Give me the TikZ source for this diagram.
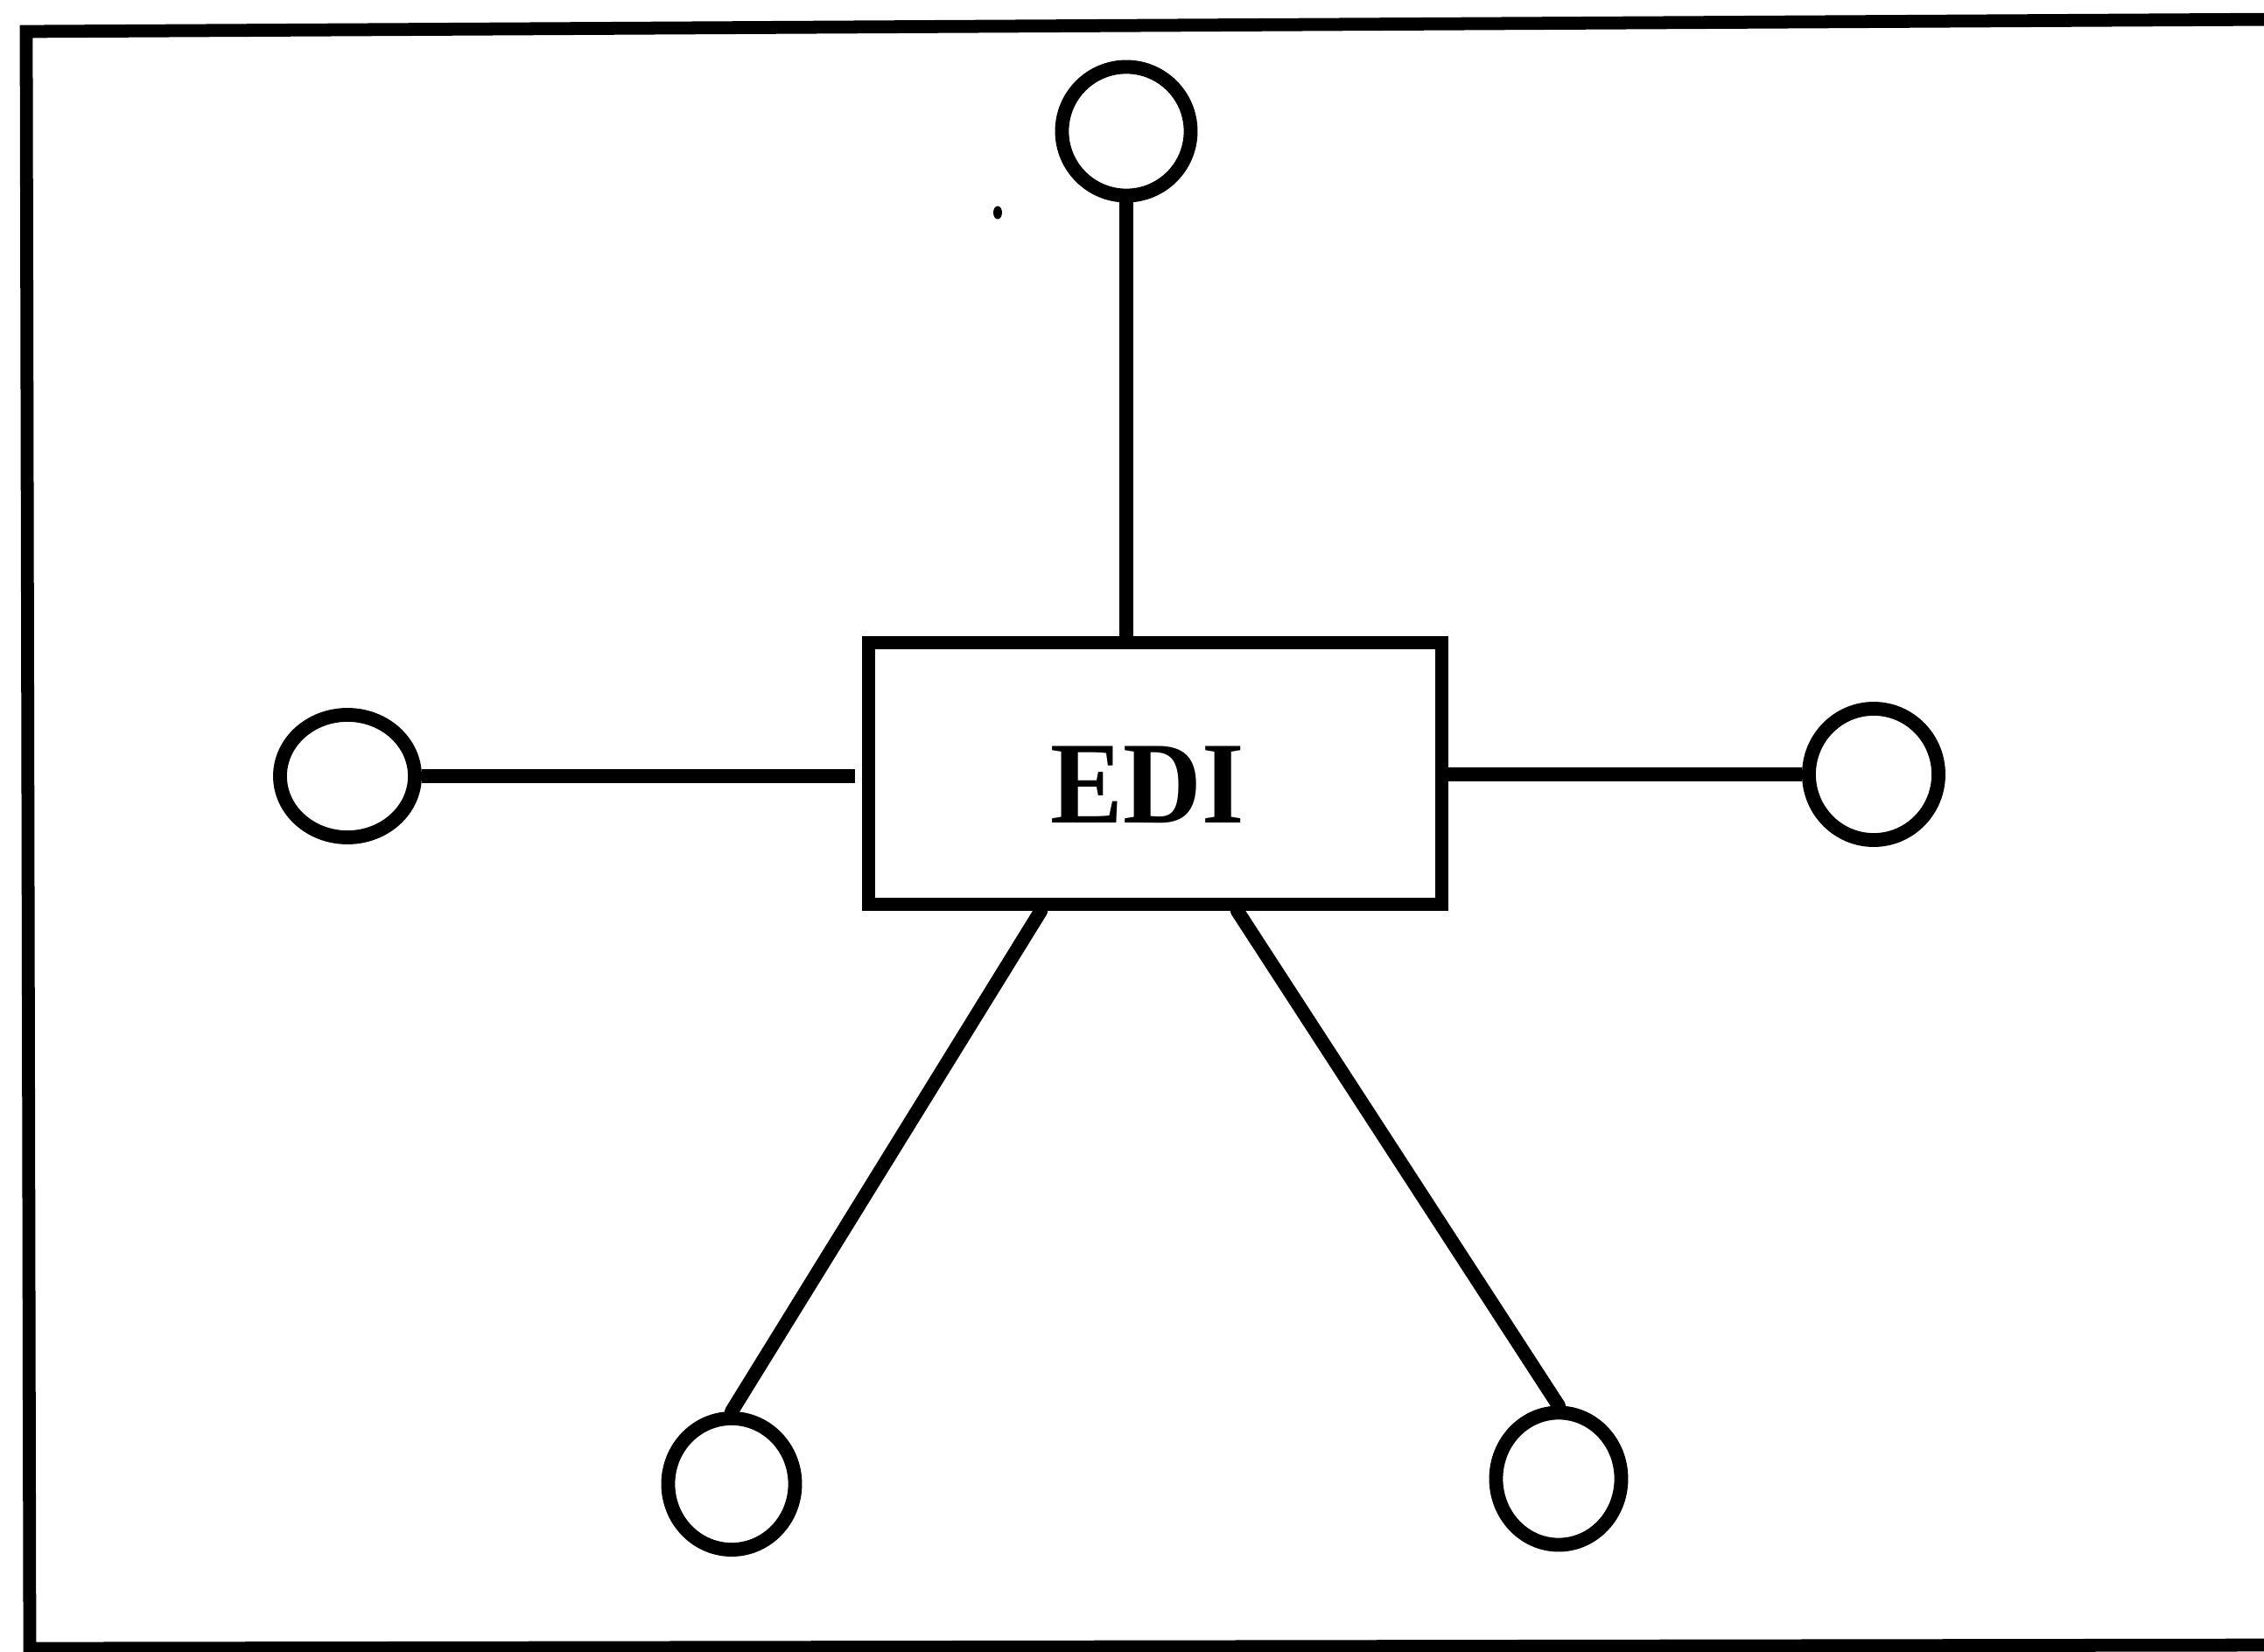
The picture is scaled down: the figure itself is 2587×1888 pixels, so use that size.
\documentclass[tikz,border=0pt]{standalone}
\usepackage{fontspec}
\setmainfont{Liberation Serif}
\usetikzlibrary{shapes.geometric,calc}
\tikzset{
  ln/.style={line width=4.5pt},
  conn/.style={ln,line cap=round},
  term/.style={ellipse,draw,ln,inner sep=0pt},
  hub/.style={rectangle,draw,line width=4.2pt,inner sep=0pt},
  lbl/.style={inner sep=0pt,font=\fontsize{38}{40}\selectfont\bfseries}
}
\begin{document}
\begin{tikzpicture}[x=0.01cm,y=-0.01cm]
\useasboundingbox (0,0) rectangle (2587,1888);
\fill[white] (0,0) rectangle (2587,1888);
\begin{scope}
\clip (0,0) rectangle (2587,1888);
\draw[line width=4.2pt,line join=miter] (2620,22) -- (30,36) -- (34,1884) -- (2620,1880);
\end{scope}
% hub
\node[hub,minimum width=6.55cm,minimum height=2.99cm] (box) at (1320,884) {};
\node[lbl] (edi) at (1311,897) {\scalebox{0.93}[1]{EDI}};
% terminals
\node[term,minimum width=1.47cm,minimum height=1.47cm] (top) at (1287,150) {};
\node[term,minimum width=1.54cm,minimum height=1.40cm] (left) at (397,887) {};
\node[term,minimum width=1.48cm,minimum height=1.50cm] (right) at (2141,885) {};
\node[term,minimum width=1.45cm,minimum height=1.50cm] (bl) at (836,1696) {};
\node[term,minimum width=1.43cm,minimum height=1.51cm] (br) at (1781,1690) {};
% connectors
\draw[ln] (top.south) -- (top.south |- box.north);
\draw[ln] (left.east) -- ([xshift=-0.08cm]left.east -| box.west);
\draw[ln] (right.west) -- (right.west -| box.east);
\draw[conn] ($(box.south west)!0.305!(box.south east)$) -- (bl.north);
\draw[conn] ($(box.south west)!0.64!(box.south east)$) -- (br.north);
% speck
\fill (1140,243) ellipse (5 and 7.5);
\end{tikzpicture}
\end{document}
